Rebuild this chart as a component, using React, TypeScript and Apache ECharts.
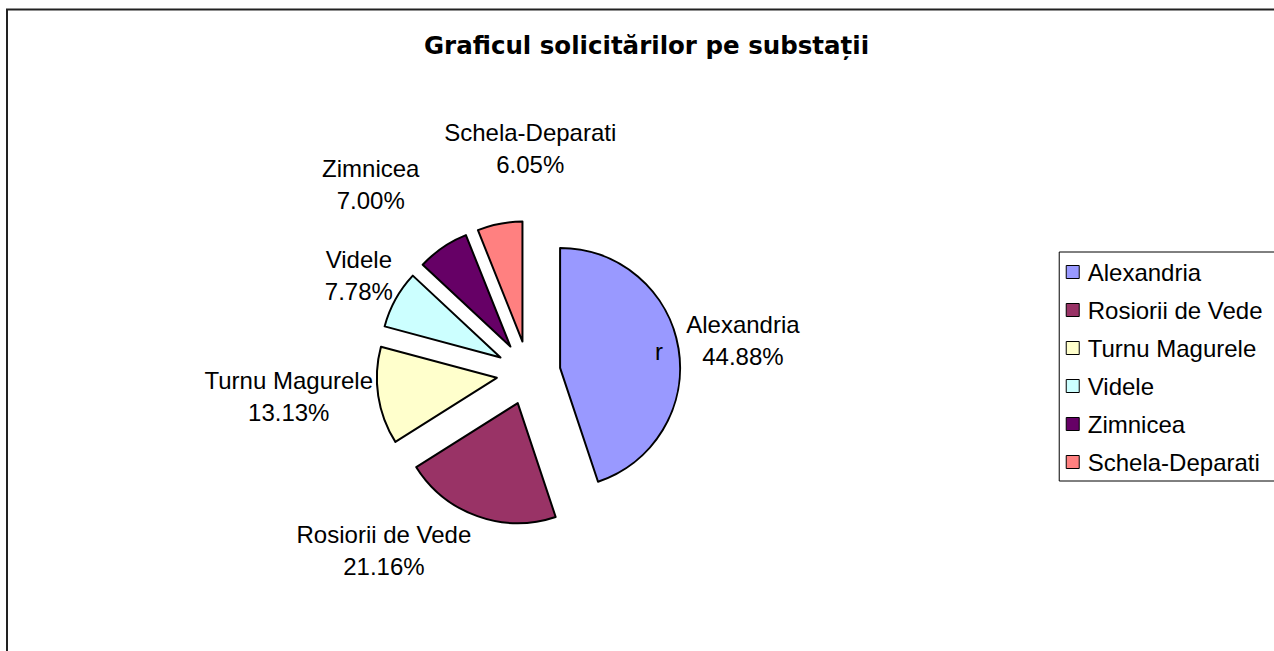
import React, { useEffect, useRef } from 'react';
import * as echarts from 'echarts';

const TITLE = 'Graficul solicitărilor pe substații';
const CATEGORIES = ['Alexandria', 'Rosiorii de Vede', 'Turnu Magurele', 'Videle', 'Zimnicea', 'Schela-Deparati'];
const SHARES = [44.88, 21.16, 13.13, 7.78, 7.0, 6.05];
const COLORS = ['#9999FF', '#993366', '#FFFFCC', '#CCFFFF', '#660066', '#FF8080'];
// leader geometry used to place each outside label (radial, horizontal)
const LABEL_LEN = [48, 37, 1.5, 50, 76, 77];
const LABEL_LEN2 = [12, 76, 83, -12, 24, -50];

const SANS = "'Liberation Sans', Arial, Helvetica, sans-serif";

export default function App() {
  const ref = useRef<HTMLDivElement>(null);
  useEffect(() => {
    if (!ref.current) return;
    const chart = echarts.init(ref.current, null, { renderer: 'svg' });
    chart.setOption({
      animation: false,
      backgroundColor: '#ffffff',
      title: {
        text: TITLE,
        left: 424,
        top: 33,
        padding: 0,
        textStyle: { fontFamily: "'DejaVu Sans', sans-serif", fontWeight: 'bold', fontSize: 24.5, color: '#000' },
      },
      legend: {
        orient: 'vertical',
        right: -20,
        top: 252,
        padding: [8, 31.5, 7, 6.5],
        itemGap: 14,
        itemWidth: 20,
        itemHeight: 13,
        icon: 'path://M0 0H10V10H0Z',
        borderColor: '#000',
        borderWidth: 1,
        selectedMode: false,
        itemStyle: { borderColor: '#000', borderWidth: 1 },
        textStyle: { fontFamily: SANS, fontSize: 24, color: '#000' },
        data: CATEGORIES,
      },
      graphic: [
        {
          type: 'rect',
          silent: true,
          z: -10,
          shape: { x: 7, y: 9.5, width: 1400, height: 1000 },
          style: { fill: 'none', stroke: '#222', lineWidth: 2 },
        },
        {
          type: 'text',
          silent: true,
          z: 100,
          style: { text: 'r', x: 655, y: 351, font: `24px ${SANS}`, fill: '#000', textAlign: 'left', textVerticalAlign: 'middle' },
        },
      ],
      series: [
        {
          type: 'pie',
          center: [528.5, 373],
          radius: 120,
          startAngle: 90,
          clockwise: true,
          selectedMode: 'multiple',
          selectedOffset: 32,
          avoidLabelOverlap: false,
          emphasis: { disabled: true },
          itemStyle: { borderColor: '#000', borderWidth: 2 },
          label: {
            show: true,
            position: 'outside',
            fontFamily: SANS,
            fontSize: 24,
            lineHeight: 32,
            color: '#000',
            formatter: (p: any) => `${p.name}\n${Number(p.value).toFixed(2)}%`,
          },
          labelLine: { show: false },
          labelLayout: () => ({ align: 'center' }),
          data: CATEGORIES.map((name, i) => ({
            name,
            value: SHARES[i],
            selected: true,
            itemStyle: { color: COLORS[i] },
            labelLine: { show: false, length: LABEL_LEN[i], length2: LABEL_LEN2[i] },
          })),
        },
      ],
    });
    return () => chart.dispose();
  }, []);
  return <div ref={ref} style={{ position: 'fixed', left: 0, top: 0, width: 1274, height: 651 }} />;
}
